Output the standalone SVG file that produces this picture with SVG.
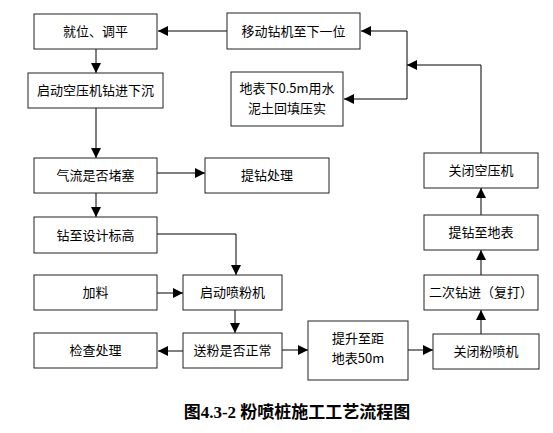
<svg xmlns="http://www.w3.org/2000/svg" width="553" height="433" viewBox="0 0 553 433">
<style>
.box{fill:#fff;stroke:#222;stroke-width:1}
.t{font-family:"Noto Sans CJK SC","Liberation Sans",sans-serif;font-size:13px;fill:#000;text-anchor:middle}
.c{fill:none;stroke:#000;stroke-width:1}
.cap{font-family:"Liberation Serif","Noto Sans CJK SC",serif;font-size:17px;font-weight:bold;fill:#000;text-anchor:middle}
</style>
<defs>
<marker id="ah" markerUnits="userSpaceOnUse" markerWidth="10" markerHeight="10" viewBox="0 0 10 10" refX="10" refY="5" orient="auto">
<path d="M0,0 L10,5 L0,10 z" fill="#000"/>
</marker>
</defs>
<rect width="553" height="433" fill="#fff"/>
<g id="connectors">
<line class="c" x1="227" y1="31" x2="158" y2="31" marker-end="url(#ah)"/>
<line class="c" x1="96" y1="49" x2="96" y2="73" marker-end="url(#ah)"/>
<line class="c" x1="96" y1="108" x2="96" y2="158" marker-end="url(#ah)"/>
<line class="c" x1="157" y1="173" x2="205" y2="173" marker-end="url(#ah)"/>
<line class="c" x1="96" y1="193" x2="96" y2="217" marker-end="url(#ah)"/>
<polyline class="c" points="157,234 236,234 236,275" marker-end="url(#ah)"/>
<line class="c" x1="157" y1="293" x2="183" y2="293" marker-end="url(#ah)"/>
<line class="c" x1="235" y1="310" x2="235" y2="333" marker-end="url(#ah)"/>
<line class="c" x1="183" y1="351" x2="158" y2="351" marker-end="url(#ah)"/>
<line class="c" x1="282" y1="350" x2="308" y2="350" marker-end="url(#ah)"/>
<line class="c" x1="408" y1="350" x2="433" y2="350" marker-end="url(#ah)"/>
<line class="c" x1="481" y1="334" x2="481" y2="310" marker-end="url(#ah)"/>
<line class="c" x1="481" y1="275" x2="481" y2="250" marker-end="url(#ah)"/>
<line class="c" x1="481" y1="215" x2="481" y2="188" marker-end="url(#ah)"/>
<polyline class="c" points="481,153 481,65 407,65" marker-end="url(#ah)"/>
<polyline class="c" points="407,99 407,31 361,31" marker-end="url(#ah)"/>
<line class="c" x1="407" y1="99" x2="344" y2="99" marker-end="url(#ah)"/>
</g>
<g id="n1"><rect class="box" x="34" y="14" width="123" height="35"/><text class="t" x="95.5" y="36">就位、调平</text></g>
<g id="n2"><rect class="box" x="227" y="13" width="133" height="36"/><text class="t" x="293.5" y="35.5">移动钻机至下一位</text></g>
<g id="n3"><rect class="box" x="28" y="73" width="135" height="35"/><text class="t" x="95.5" y="95">启动空压机钻进下沉</text></g>
<g id="n4"><rect class="box" x="231" y="72" width="112" height="54"/><text class="t" x="287" y="93">地表下0.5m用水</text><text class="t" x="287" y="113">泥土回填压实</text></g>
<g id="n5"><rect class="box" x="34" y="158" width="123" height="35"/><text class="t" x="95.5" y="180">气流是否堵塞</text></g>
<g id="n6"><rect class="box" x="205" y="158" width="124" height="35"/><text class="t" x="267" y="180">提钻处理</text></g>
<g id="n7"><rect class="box" x="424" y="153" width="114" height="35"/><text class="t" x="481" y="175">关闭空压机</text></g>
<g id="n8"><rect class="box" x="34" y="217" width="123" height="36"/><text class="t" x="95.5" y="239.5">钻至设计标高</text></g>
<g id="n9"><rect class="box" x="424" y="215" width="114" height="35"/><text class="t" x="481" y="237">提钻至地表</text></g>
<g id="n10"><rect class="box" x="34" y="275" width="123" height="35"/><text class="t" x="95.5" y="297">加料</text></g>
<g id="n11"><rect class="box" x="183" y="275" width="99" height="35"/><text class="t" x="232.5" y="297">启动喷粉机</text></g>
<g id="n12"><rect class="box" x="424" y="275" width="114" height="35"/><text class="t" x="481" y="297">二次钻进（复打）</text></g>
<g id="n13"><rect class="box" x="34" y="333" width="123" height="35"/><text class="t" x="95.5" y="355">检查处理</text></g>
<g id="n14"><rect class="box" x="183" y="333" width="99" height="35"/><text class="t" x="232.5" y="355">送粉是否正常</text></g>
<g id="n15"><rect class="box" x="308" y="321" width="100" height="59"/><text class="t" x="358" y="343">提升至距</text><text class="t" x="358" y="363">地表50m</text></g>
<g id="n16"><rect class="box" x="433" y="334" width="106" height="35"/><text class="t" x="486" y="356">关闭粉喷机</text></g>
<text class="cap" x="297" y="418">图4.3-2  粉喷桩施工工艺流程图</text>
</svg>
